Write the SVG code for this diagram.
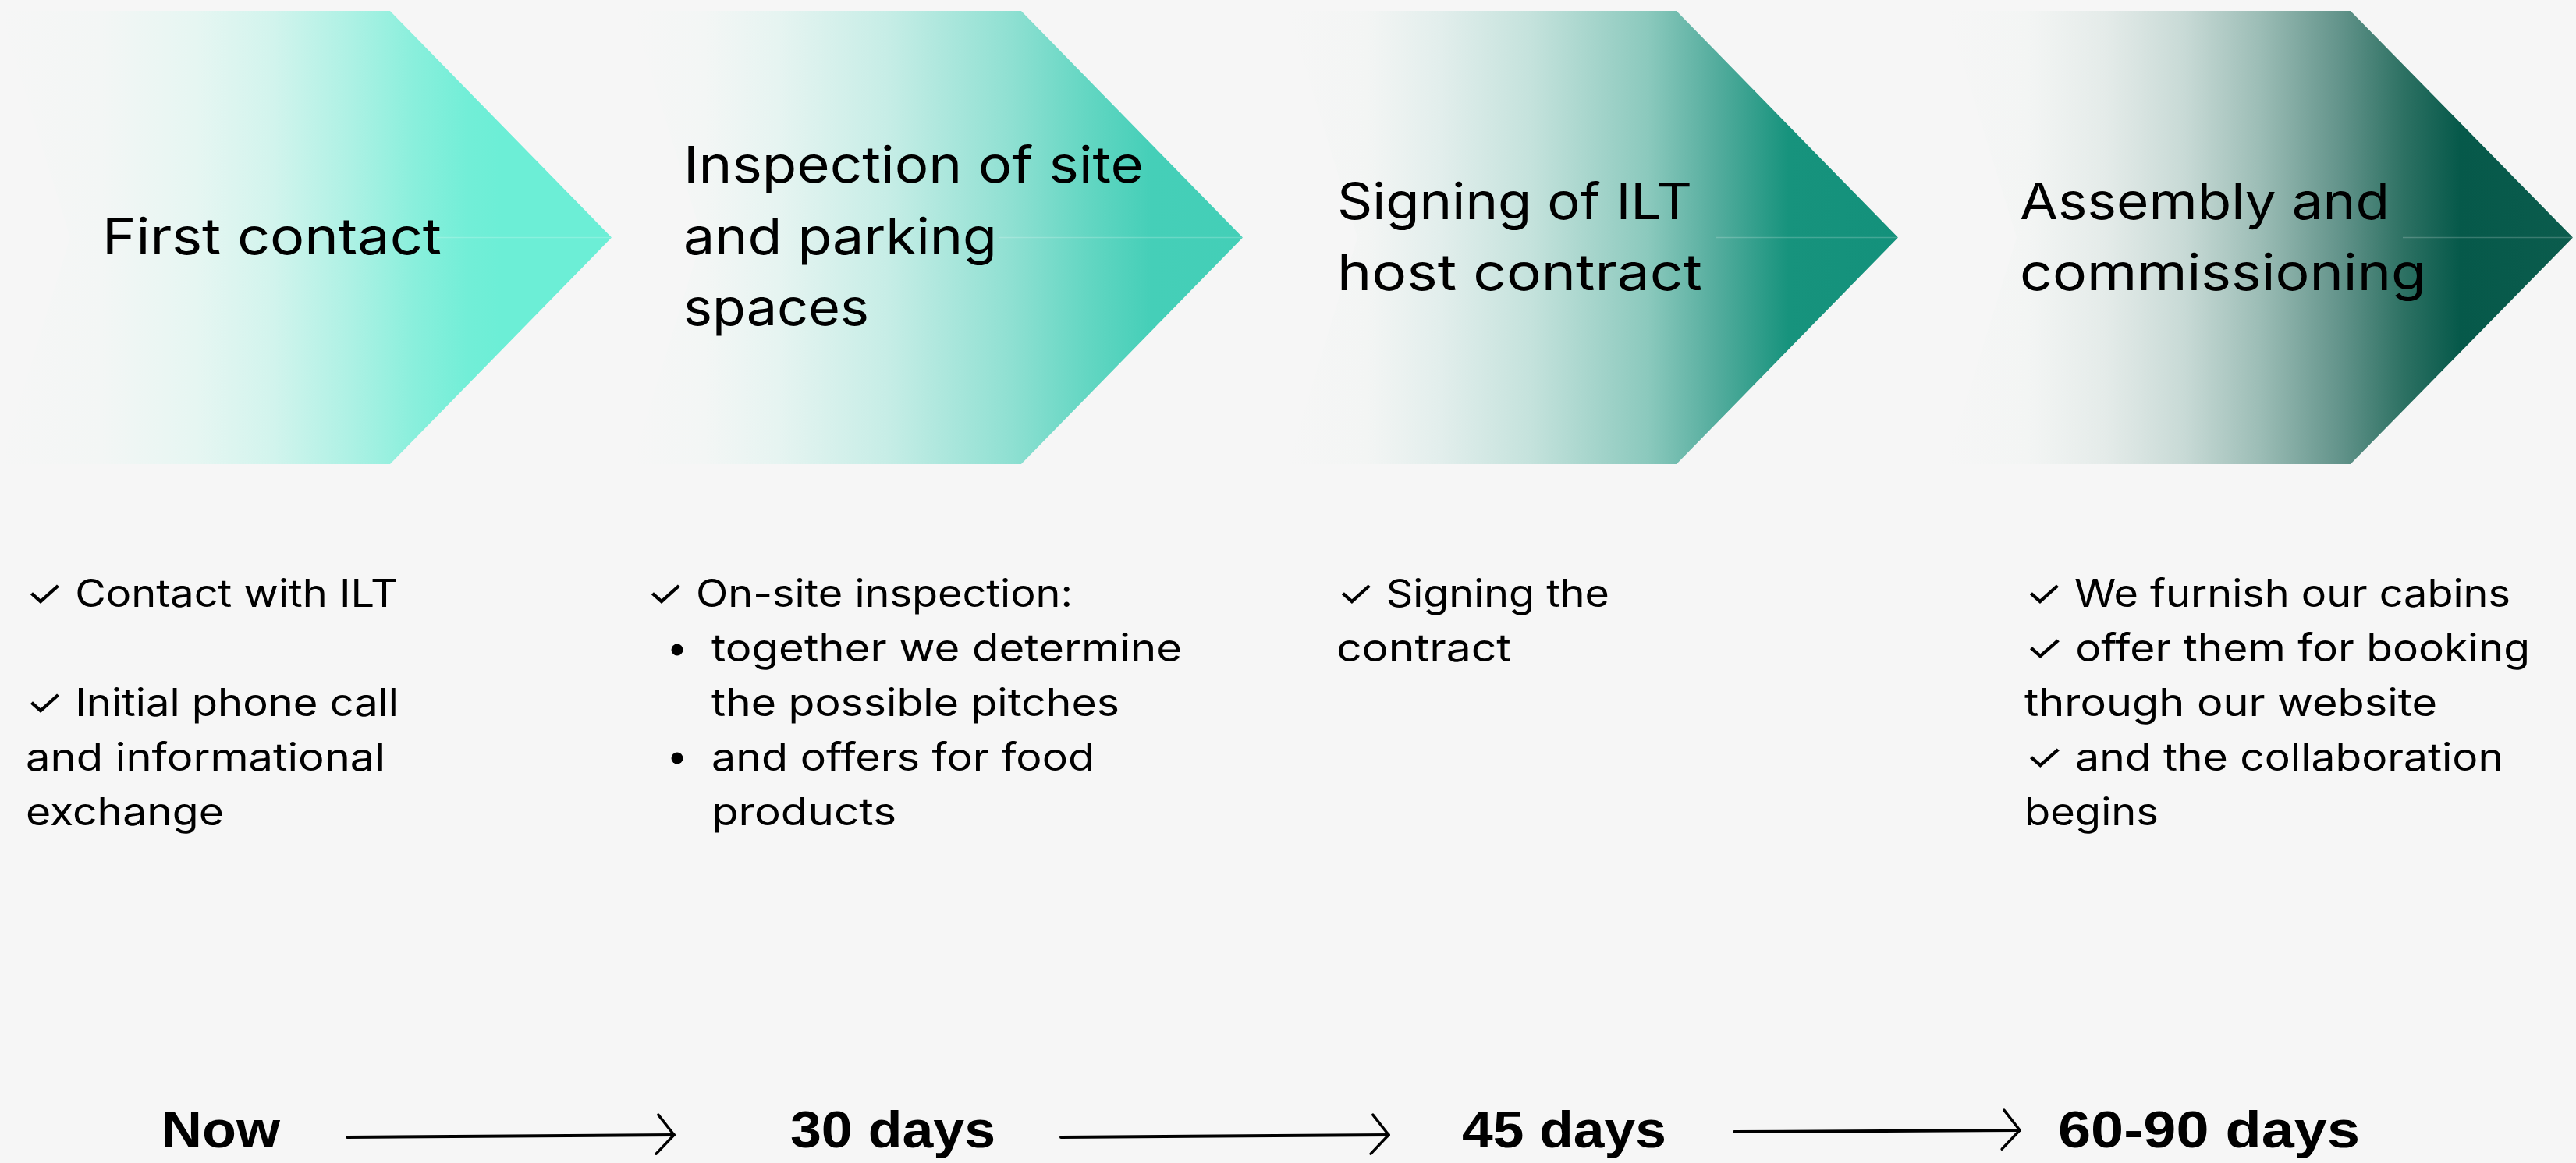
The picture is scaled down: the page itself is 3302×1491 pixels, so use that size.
<svg xmlns="http://www.w3.org/2000/svg" width="3302" height="1491" viewBox="0 0 3302 1491">
<style>
.title{font-family:Inter,"Liberation Sans",sans-serif;font-size:65px;fill:#000;}
.body{font-family:Inter,"DejaVu Sans",sans-serif;font-size:49px;fill:#000;}
.time{font-family:"Liberation Sans",Arial,sans-serif;font-weight:bold;font-size:67px;fill:#000;}
.arrow{fill:none;stroke:#000;stroke-width:4;stroke-linecap:round;}
.seam{stroke:#ffffff;stroke-opacity:0.2;stroke-width:1.5;}
</style>
<defs>
<linearGradient id="g1" gradientUnits="userSpaceOnUse" x1="0" y1="0" x2="784" y2="0">
<stop offset="0" stop-color="#f6f6f6"/>
<stop offset="0.166" stop-color="#f3f6f5"/>
<stop offset="0.32" stop-color="#e6f6f2"/>
<stop offset="0.446" stop-color="#d2f4ed"/>
<stop offset="0.574" stop-color="#adf1e4"/>
<stop offset="0.676" stop-color="#8aefdc"/>
<stop offset="0.765" stop-color="#72eed7"/>
<stop offset="0.82" stop-color="#6ceed6"/>
<stop offset="1" stop-color="#6ceed6"/>
</linearGradient>
<linearGradient id="g2" gradientUnits="userSpaceOnUse" x1="810" y1="0" x2="1593" y2="0">
<stop offset="0" stop-color="#f6f6f6"/>
<stop offset="0.12" stop-color="#f3f6f5"/>
<stop offset="0.24" stop-color="#e6f4f1"/>
<stop offset="0.42" stop-color="#c6ede6"/>
<stop offset="0.62" stop-color="#8fe0d2"/>
<stop offset="0.75" stop-color="#62d6c2"/>
<stop offset="0.85" stop-color="#45cfb8"/>
<stop offset="1" stop-color="#43cfb7"/>
</linearGradient>
<linearGradient id="g3" gradientUnits="userSpaceOnUse" x1="1651" y1="0" x2="2433" y2="0">
<stop offset="0" stop-color="#f6f6f6"/>
<stop offset="0.13" stop-color="#f3f5f4"/>
<stop offset="0.25" stop-color="#e2eeec"/>
<stop offset="0.4" stop-color="#c4e2dc"/>
<stop offset="0.59" stop-color="#8bc9bd"/>
<stop offset="0.7" stop-color="#55ad9e"/>
<stop offset="0.82" stop-color="#17937d"/>
<stop offset="1" stop-color="#13917b"/>
</linearGradient>
<linearGradient id="g4" gradientUnits="userSpaceOnUse" x1="2495" y1="0" x2="3298" y2="0">
<stop offset="0" stop-color="#f6f6f6"/>
<stop offset="0.13" stop-color="#f3f5f4"/>
<stop offset="0.255" stop-color="#e4ebe9"/>
<stop offset="0.38" stop-color="#c8dad6"/>
<stop offset="0.5" stop-color="#9cbdb6"/>
<stop offset="0.63" stop-color="#62938a"/>
<stop offset="0.73" stop-color="#2d7163"/>
<stop offset="0.82" stop-color="#06594a"/>
<stop offset="1" stop-color="#0b5c4d"/>
</linearGradient>
<marker id="head" markerUnits="userSpaceOnUse" markerWidth="60" markerHeight="70" refX="0" refY="0" viewBox="-30 -35 40 70" orient="auto" overflow="visible">
<path d="M-20,-26 L0,0 L-23,24" fill="none" stroke="#000" stroke-width="3.5" stroke-linecap="round" stroke-linejoin="round"/>
</marker>
</defs>
<rect x="0" y="0" width="3302" height="1491" fill="#f6f6f6"/>

<g id="step1">
<polygon points="0,14 500,14 784,304.5 500,595 0,595 90,304.5" fill="url(#g1)"/>
<line class="seam" x1="560" y1="304.5" x2="784" y2="304.5"/>
<text class="title" x="131" y="326" textLength="435" lengthAdjust="spacingAndGlyphs">First contact</text>
<text class="body" x="33" y="778" textLength="477" lengthAdjust="spacingAndGlyphs">✓ Contact with ILT</text>
<text class="body" x="33" y="918" textLength="478" lengthAdjust="spacingAndGlyphs">✓ Initial phone call</text>
<text class="body" x="33" y="988" textLength="461" lengthAdjust="spacingAndGlyphs">and informational</text>
<text class="body" x="33" y="1058" textLength="254" lengthAdjust="spacingAndGlyphs">exchange</text>
</g>

<g id="step2">
<polygon points="810,14 1309,14 1593,304.5 1309,595 810,595 900,304.5" fill="url(#g2)"/>
<line class="seam" x1="1280" y1="304.5" x2="1593" y2="304.5"/>
<text class="title" x="876" y="234" textLength="590" lengthAdjust="spacingAndGlyphs">Inspection of site</text>
<text class="title" x="876" y="326" textLength="402" lengthAdjust="spacingAndGlyphs">and parking</text>
<text class="title" x="876" y="417" textLength="238" lengthAdjust="spacingAndGlyphs">spaces</text>
<text class="body" x="829" y="778" textLength="546" lengthAdjust="spacingAndGlyphs">✓ On-site inspection:</text>
<circle cx="868" cy="833" r="7.5" fill="#000"/>
<text class="body" x="912" y="848" textLength="603" lengthAdjust="spacingAndGlyphs">together we determine</text>
<text class="body" x="912" y="918" textLength="523" lengthAdjust="spacingAndGlyphs">the possible pitches</text>
<circle cx="868" cy="972" r="7.5" fill="#000"/>
<text class="body" x="912" y="988" textLength="491" lengthAdjust="spacingAndGlyphs">and offers for food</text>
<text class="body" x="912" y="1058" textLength="237" lengthAdjust="spacingAndGlyphs">products</text>
</g>

<g id="step3">
<polygon points="1651,14 2149,14 2433,304.5 2149,595 1651,595 1740,304.5" fill="url(#g3)"/>
<line class="seam" x1="2200" y1="304.5" x2="2433" y2="304.5"/>
<text class="title" x="1714" y="281" textLength="455" lengthAdjust="spacingAndGlyphs">Signing of ILT</text>
<text class="title" x="1714" y="372" textLength="468" lengthAdjust="spacingAndGlyphs">host contract</text>
<text class="body" x="1714" y="778" textLength="349" lengthAdjust="spacingAndGlyphs">✓ Signing the</text>
<text class="body" x="1713" y="848" textLength="224" lengthAdjust="spacingAndGlyphs">contract</text>
</g>

<g id="step4">
<polygon points="2495,14 3013,14 3298,304.5 3013,595 2495,595 2585,304.5" fill="url(#g4)"/>
<line class="seam" x1="3080" y1="304.5" x2="3298" y2="304.5"/>
<text class="title" x="2589" y="281" textLength="474" lengthAdjust="spacingAndGlyphs">Assembly and</text>
<text class="title" x="2589" y="372" textLength="521" lengthAdjust="spacingAndGlyphs">commissioning</text>
<text class="body" x="2596" y="778" textLength="622" lengthAdjust="spacingAndGlyphs">✓ We furnish our cabins</text>
<text class="body" x="2596" y="848" textLength="647" lengthAdjust="spacingAndGlyphs">✓ offer them for booking</text>
<text class="body" x="2595" y="918" textLength="529" lengthAdjust="spacingAndGlyphs">through our website</text>
<text class="body" x="2596" y="988" textLength="613" lengthAdjust="spacingAndGlyphs">✓ and the collaboration</text>
<text class="body" x="2595" y="1058" textLength="172" lengthAdjust="spacingAndGlyphs">begins</text>
</g>

<g id="timeline-labels">
<text class="time" x="207" y="1471" textLength="152" lengthAdjust="spacingAndGlyphs">Now</text>
<text class="time" x="1013" y="1471" textLength="263" lengthAdjust="spacingAndGlyphs">30 days</text>
<text class="time" x="1874" y="1471" textLength="262" lengthAdjust="spacingAndGlyphs">45 days</text>
<text class="time" x="2638" y="1471" textLength="387" lengthAdjust="spacingAndGlyphs">60-90 days</text>
</g>

<g id="connectors">
<path class="arrow" d="M445,1458 L864,1455" marker-end="url(#head)"/>
<path class="arrow" d="M1360,1458 L1780,1455" marker-end="url(#head)"/>
<path class="arrow" d="M2223,1451 L2589,1449" marker-end="url(#head)"/>
</g>
</svg>
